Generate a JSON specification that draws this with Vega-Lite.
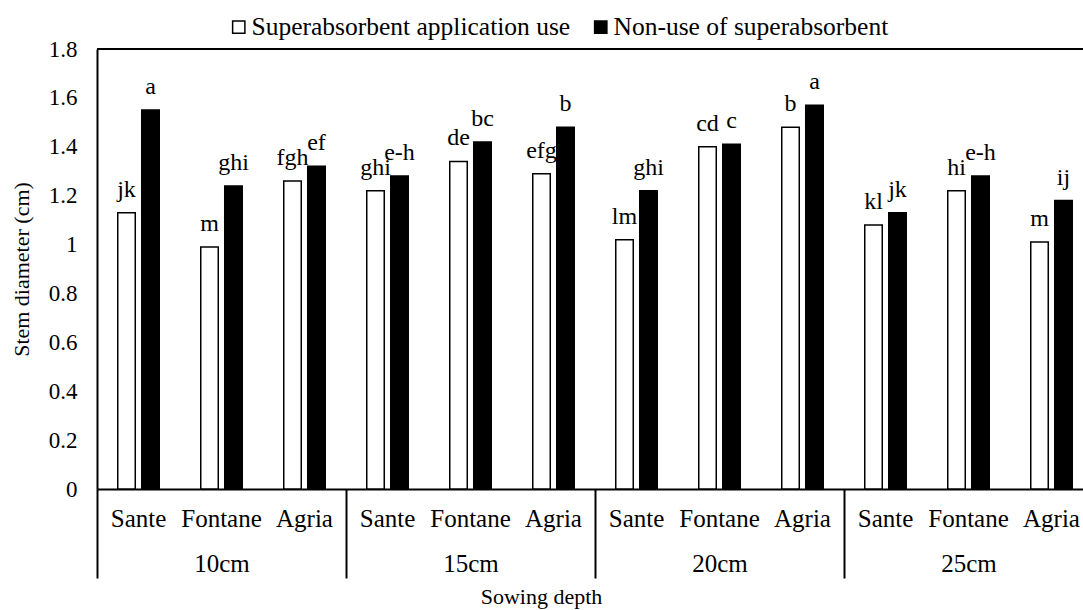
{
  "$schema": "https://vega.github.io/schema/vega-lite/v6.json",
  "width": 986,
  "height": 440,
  "autosize": {"type": "none"},
  "padding": {"left": 97, "top": 49, "right": 0, "bottom": 121},
  "background": "white",
  "config": {
    "font": "Liberation Serif",
    "text": {"font": "Liberation Serif"},
    "view": {"stroke": null},
    "axis": {"labelFont": "Liberation Serif", "titleFont": "Liberation Serif", "labelColor": "black", "titleColor": "black", "titleFontWeight": "normal", "grid": false},
    "legend": {"labelFont": "Liberation Serif"}
  },
  "data": {
    "values": [
      {"depth": "10cm", "cell": "10cm-Sante", "treatment": "Superabsorbent application use", "value": 1.13, "sig": "jk"},
      {"depth": "10cm", "cell": "10cm-Sante", "treatment": "Non-use of superabsorbent", "value": 1.55, "sig": "a"},
      {"depth": "10cm", "cell": "10cm-Fontane", "treatment": "Superabsorbent application use", "value": 0.99, "sig": "m"},
      {"depth": "10cm", "cell": "10cm-Fontane", "treatment": "Non-use of superabsorbent", "value": 1.24, "sig": "ghi"},
      {"depth": "10cm", "cell": "10cm-Agria", "treatment": "Superabsorbent application use", "value": 1.26, "sig": "fgh"},
      {"depth": "10cm", "cell": "10cm-Agria", "treatment": "Non-use of superabsorbent", "value": 1.32, "sig": "ef"},
      {"depth": "15cm", "cell": "15cm-Sante", "treatment": "Superabsorbent application use", "value": 1.22, "sig": "ghi"},
      {"depth": "15cm", "cell": "15cm-Sante", "treatment": "Non-use of superabsorbent", "value": 1.28, "sig": "e-h"},
      {"depth": "15cm", "cell": "15cm-Fontane", "treatment": "Superabsorbent application use", "value": 1.34, "sig": "de"},
      {"depth": "15cm", "cell": "15cm-Fontane", "treatment": "Non-use of superabsorbent", "value": 1.42, "sig": "bc"},
      {"depth": "15cm", "cell": "15cm-Agria", "treatment": "Superabsorbent application use", "value": 1.29, "sig": "efg"},
      {"depth": "15cm", "cell": "15cm-Agria", "treatment": "Non-use of superabsorbent", "value": 1.48, "sig": "b"},
      {"depth": "20cm", "cell": "20cm-Sante", "treatment": "Superabsorbent application use", "value": 1.02, "sig": "lm"},
      {"depth": "20cm", "cell": "20cm-Sante", "treatment": "Non-use of superabsorbent", "value": 1.22, "sig": "ghi"},
      {"depth": "20cm", "cell": "20cm-Fontane", "treatment": "Superabsorbent application use", "value": 1.40, "sig": "cd"},
      {"depth": "20cm", "cell": "20cm-Fontane", "treatment": "Non-use of superabsorbent", "value": 1.41, "sig": "c"},
      {"depth": "20cm", "cell": "20cm-Agria", "treatment": "Superabsorbent application use", "value": 1.48, "sig": "b"},
      {"depth": "20cm", "cell": "20cm-Agria", "treatment": "Non-use of superabsorbent", "value": 1.57, "sig": "a"},
      {"depth": "25cm", "cell": "25cm-Sante", "treatment": "Superabsorbent application use", "value": 1.08, "sig": "kl"},
      {"depth": "25cm", "cell": "25cm-Sante", "treatment": "Non-use of superabsorbent", "value": 1.13, "sig": "jk"},
      {"depth": "25cm", "cell": "25cm-Fontane", "treatment": "Superabsorbent application use", "value": 1.22, "sig": "hi"},
      {"depth": "25cm", "cell": "25cm-Fontane", "treatment": "Non-use of superabsorbent", "value": 1.28, "sig": "e-h"},
      {"depth": "25cm", "cell": "25cm-Agria", "treatment": "Superabsorbent application use", "value": 1.01, "sig": "m"},
      {"depth": "25cm", "cell": "25cm-Agria", "treatment": "Non-use of superabsorbent", "value": 1.18, "sig": "ij"}
    ]
  },
  "layer": [
    {
      "encoding": {
        "x": {
          "field": "cell", "type": "nominal",
          "sort": ["10cm-Sante","10cm-Fontane","10cm-Agria","15cm-Sante","15cm-Fontane","15cm-Agria","20cm-Sante","20cm-Fontane","20cm-Agria","25cm-Sante","25cm-Fontane","25cm-Agria"],
          "scale": {"range": [0, 996], "paddingInner": 0.5, "paddingOuter": 0.25},
          "axis": {
            "title": null,
            "labelExpr": "split(datum.label, '-')[1]",
            "labelAngle": 0,
            "labelFontSize": 25,
            "labelPadding": 17,
            "ticks": false,
            "tickSize": 0,
            "domain": true,
            "domainColor": "black",
            "domainWidth": 2
          }
        },
        "xOffset": {
          "field": "treatment", "type": "nominal",
          "sort": ["Superabsorbent application use", "Non-use of superabsorbent"],
          "scale": {"paddingInner": 0.27, "paddingOuter": 0}
        },
        "y": {
          "field": "value", "type": "quantitative",
          "scale": {"domain": [0, 1.8], "nice": false},
          "axis": {
            "title": "Stem diameter (cm)",
            "titleFontSize": 22,
            "titlePadding": 15,
            "values": [0, 0.2, 0.4, 0.6, 0.8, 1, 1.2, 1.4, 1.6, 1.8],
            "format": "~g",
            "labelFontSize": 23,
            "labelPadding": 20,
            "ticks": false,
            "tickSize": 0,
            "domainColor": "black",
            "domainWidth": 2
          }
        }
      },
      "layer": [
        {
          "mark": {"type": "bar", "stroke": "black", "strokeWidth": 1.5},
          "encoding": {
            "fill": {
              "field": "treatment", "type": "nominal",
              "scale": {"domain": ["Superabsorbent application use", "Non-use of superabsorbent"], "range": ["white", "black"]},
              "legend": {
                "title": null,
                "orient": "none",
                "direction": "horizontal",
                "legendX": 129,
                "legendY": -35,
                "symbolType": "square",
                "symbolSize": 150,
                "symbolStrokeColor": "black",
                "symbolStrokeWidth": 1.5,
                "labelFontSize": 25.5,
                "labelColor": "black",
                "labelOffset": 0,
                "columnPadding": 17,
                "labelLimit": 600
              }
            }
          }
        },
        {
          "mark": {"type": "text", "baseline": "alphabetic", "dy": -16, "fontSize": 24, "color": "black", "font": "Liberation Serif"},
          "encoding": {"text": {"field": "sig"}}
        },
        {
          "mark": {"type": "rule", "color": "black", "strokeWidth": 2},
          "encoding": {"y": {"datum": 1.8}, "x": null, "xOffset": null}
        }
      ]
    },
    {
      "mark": {"type": "point", "opacity": 0},
      "encoding": {
        "x": {
          "field": "depth", "type": "nominal",
          "scale": {"range": [0, 996], "paddingInner": 0, "paddingOuter": 0},
          "axis": {
            "orient": "bottom",
            "title": "Sowing depth",
            "titleFontSize": 22,
            "titleX": 444,
            "titleY": 114,
            "titleBaseline": "alphabetic",
            "labelAngle": 0,
            "labelFontSize": 25,
            "labelPadding": -27,
            "domain": false,
            "ticks": true,
            "tickBand": "extent",
            "tickSize": 89,
            "tickWidth": 2,
            "tickColor": "black"
          }
        }
      }
    }
  ],
  "resolve": {"scale": {"x": "independent"}, "axis": {"x": "independent"}}
}
